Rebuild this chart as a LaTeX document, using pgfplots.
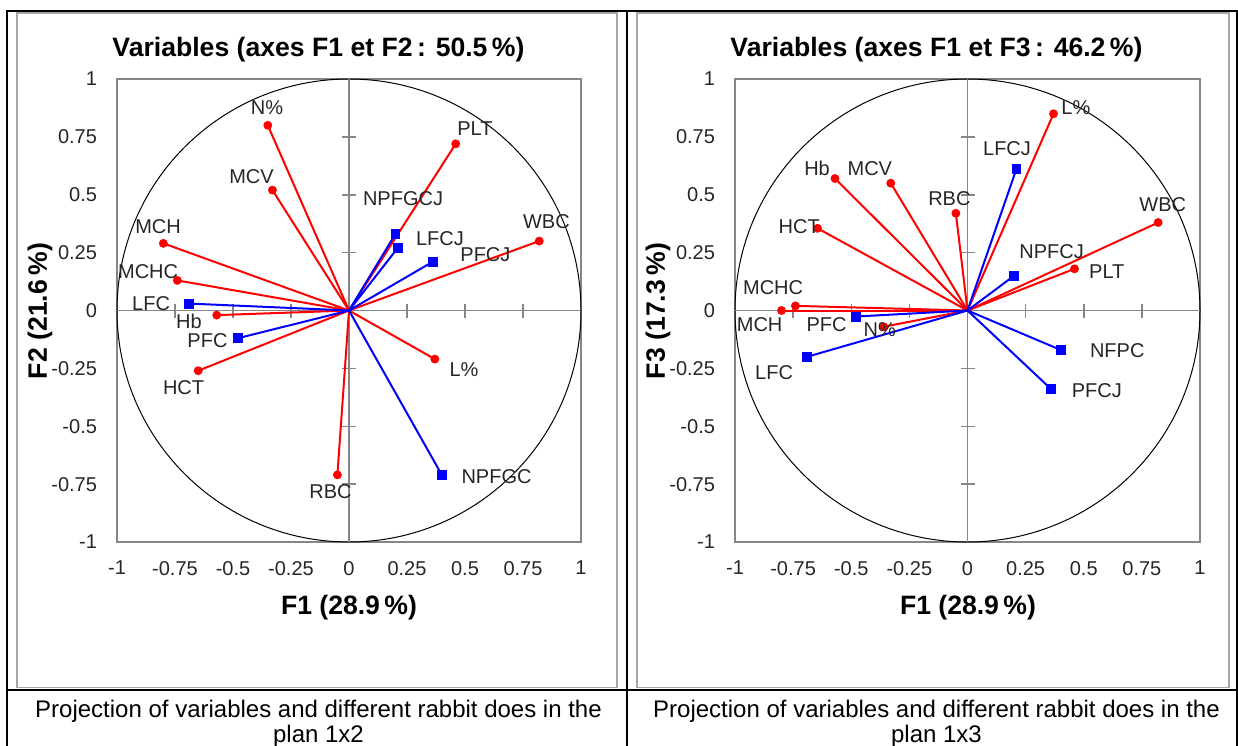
\documentclass[border=0pt]{standalone}
\usepackage{pgfplots}
\usepackage{pgfplotstable}
\pgfplotsset{compat=1.18}
\usepackage{fontspec}
\setmainfont{Liberation Sans}

% loadings: f1, f2 (or f3), then where the label sits
\pgfplotstableread{
name f1 f2 lx ly
N\% -0.35 0.80 -0.353 0.875
MCV -0.33 0.52 -0.42 0.58
MCH -0.80 0.29 -0.823 0.362
MCHC -0.74 0.13 -0.866 0.168
Hb -0.57 -0.02 -0.69 -0.045
HCT -0.65 -0.26 -0.713 -0.334
RBC -0.05 -0.71 -0.08 -0.784
L\% 0.37 -0.21 0.496 -0.254
PLT 0.46 0.72 0.543 0.787
WBC 0.82 0.30 0.851 0.386
}\redA
\pgfplotstableread{
name f1 f2 lx ly
LFC -0.69 0.03 -0.853 0.028
PFC -0.48 -0.12 -0.61 -0.131
NPFGC 0.40 -0.71 0.636 -0.718
NPFGCJ 0.20 0.33 0.233 0.485
LFCJ 0.21 0.27 0.392 0.3125
PFCJ 0.36 0.21 0.588 0.241
}\blueA
\pgfplotstableread{
name f1 f2 lx ly
Hb -0.57 0.57 -0.647 0.614
MCV -0.33 0.55 -0.42 0.614
RBC -0.05 0.42 -0.078 0.485
HCT -0.645 0.355 -0.724 0.364
MCHC -0.74 0.02 -0.836 0.097
MCH -0.80 0.00 -0.894 -0.06
N\% -0.36 -0.07 -0.377 -0.084
L\% 0.37 0.85 0.466 0.875
WBC 0.82 0.38 0.84 0.457
PLT 0.46 0.18 0.599 0.166
}\redB
\pgfplotstableread{
name f1 f2 lx ly
LFC -0.69 -0.20 -0.832 -0.267
PFC -0.48 -0.026 -0.606 -0.0625
LFCJ 0.21 0.61 0.17 0.70
NPFCJ 0.20 0.15 0.362 0.256
NFPC 0.40 -0.17 0.644 -0.175
PFCJ 0.36 -0.34 0.556 -0.347
}\blueB

\definecolor{axgray}{RGB}{134,134,134}
\newcommand{\ttl}{\bfseries\fontsize{13.3}{16}\selectfont}

\pgfplotsset{
  pca/.style={
    scale only axis, width=232pt, height=231.5pt,
    xmin=-1, xmax=1, ymin=-1, ymax=1,
    axis line style={draw=axgray, line width=1pt},
    xtick={-1,-0.75,-0.5,-0.25,0,0.25,0.5,0.75,1},
    ytick={-1,-0.75,-0.5,-0.25,0,0.25,0.5,0.75,1},
    xticklabels={-1,-0.75,-0.5,-0.25,0,0.25,0.5,0.75,1},
    yticklabels={-1,-0.75,-0.5,-0.25,0,0.25,0.5,0.75,1},
    major tick length=0pt,
    tick label style={font=\fontsize{10}{12}\selectfont, text=black!85},
    xticklabel style={yshift=-6pt},
    yticklabel style={xshift=-6.5pt},
    clip=false,
  },
  vec/.style={line width=1pt, quiver={u=\thisrow{f1}, v=\thisrow{f2}}},
  lbl/.style={only marks, mark=none, nodes near coords, point meta=explicit symbolic,
    nodes near coords style={anchor=center, text=black!85, font=\fontsize{10}{12}\selectfont}},
}

\newcommand{\circframe}{%
  \draw[black, line width=0.5pt] (axis cs:0,0) circle[radius=1];
  \draw[axgray, line width=0.75pt] (axis cs:-1,0) -- (axis cs:1,0);
  \draw[axgray, line width=0.75pt] (axis cs:0,-1) -- (axis cs:0,1);
  \pgfplotsinvokeforeach{-0.75,-0.5,-0.25,0.25,0.5,0.75}{
    \draw[axgray, line width=0.75pt] ([yshift=-3.5pt]axis cs:##1,0) -- ([yshift=3.5pt]axis cs:##1,0);
    \draw[axgray, line width=0.75pt] ([xshift=-3.5pt]axis cs:0,##1) -- ([xshift=3.5pt]axis cs:0,##1);
  }%
}

\begin{document}
\begin{tikzpicture}
\useasboundingbox (0,0) rectangle (619pt,372.5pt);

% table frame
\draw[black, line width=1.3pt] (3.5pt,-3pt) -- (3.5pt,367pt) -- (618.5pt,367pt) -- (618.5pt,-3pt);
\draw[black, line width=1.3pt] (313.5pt,-3pt) -- (313.5pt,367pt);
\draw[black, line width=1.3pt] (3.5pt,27.5pt) -- (618.5pt,27.5pt);
\draw[gray!70, line width=0.6pt] (8.5pt,28.8pt) rectangle (308.5pt,366pt);
\draw[gray!70, line width=0.6pt] (318.5pt,28.8pt) rectangle (614.5pt,366pt);

\begin{axis}[pca, at={(58.5pt,101.5pt)}, anchor=south west]
\circframe
\addplot[red, vec] table[x expr=0, y expr=0] {\redA};
\addplot[red, only marks, mark=*, mark size=2pt] table[x=f1, y=f2] {\redA};
\addplot[blue, vec] table[x expr=0, y expr=0] {\blueA};
\addplot[blue, only marks, mark=square*, mark size=2.2pt] table[x=f1, y=f2] {\blueA};
\addplot[lbl] table[x=lx, y=ly, meta=name] {\redA};
\addplot[lbl] table[x=lx, y=ly, meta=name] {\blueA};
\end{axis}

\begin{axis}[pca, width=232.5pt, at={(367.5pt,101.5pt)}, anchor=south west]
\circframe
\addplot[red, vec] table[x expr=0, y expr=0] {\redB};
\addplot[red, only marks, mark=*, mark size=2pt] table[x=f1, y=f2] {\redB};
\addplot[blue, vec] table[x expr=0, y expr=0] {\blueB};
\addplot[blue, only marks, mark=square*, mark size=2.2pt] table[x=f1, y=f2] {\blueB};
\addplot[lbl] table[x=lx, y=ly, meta=name] {\redB};
\addplot[lbl] table[x=lx, y=ly, meta=name] {\blueB};
\end{axis}

% titles and axis names
\node[font=\ttl] at (159.25pt,347.5pt) {Variables (axes F1 et F2\,: 50.5\,\%)};
\node[font=\ttl] at (468.25pt,347.5pt) {Variables (axes F1 et F3\,: 46.2\,\%)};
\node[font=\ttl] at (174.5pt,68.5pt) {F1 (28.9\,\%)};
\node[font=\ttl] at (484pt,68.5pt) {F1 (28.9\,\%)};
\node[font=\ttl, rotate=90] at (20pt,217pt) {F2 (21.6\,\%)};
\node[font=\ttl, rotate=90] at (329pt,217pt) {F3 (17.3\,\%)};

% captions
\node[font=\fontsize{12}{14}\selectfont] at (159.25pt,16.8pt) {Projection of variables and different rabbit does in the};
\node[font=\fontsize{12}{14}\selectfont] at (159.25pt,4.6pt) {plan 1x2};
\node[font=\fontsize{12}{14}\selectfont] at (468.25pt,16.8pt) {Projection of variables and different rabbit does in the};
\node[font=\fontsize{12}{14}\selectfont] at (468.25pt,4.6pt) {plan 1x3};
\end{tikzpicture}
\end{document}
